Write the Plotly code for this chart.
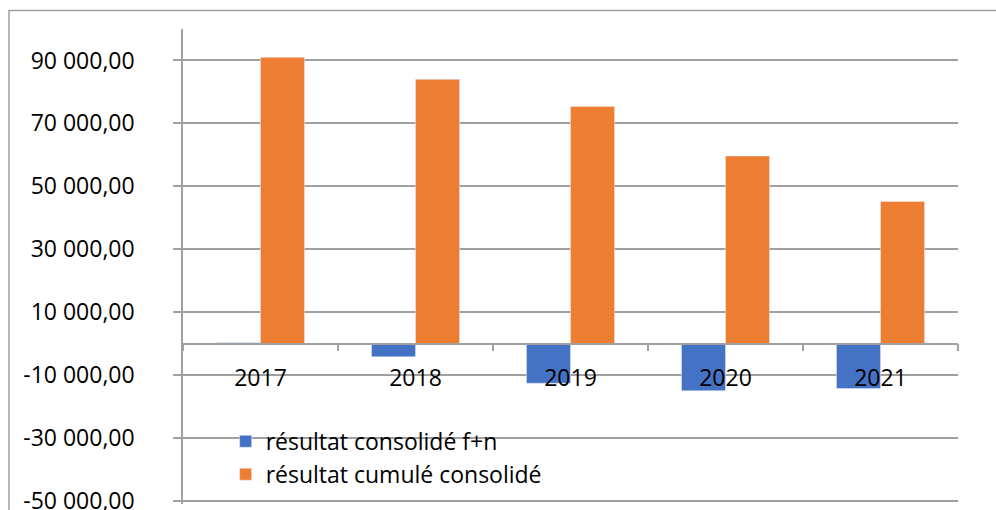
import plotly.graph_objects as go

years = ["2017", "2018", "2019", "2020", "2021"]
resultat_fn = [300, -4200, -12600, -15000, -14300]
resultat_cumule = [91000, 84000, 75400, 59600, 45200]
y_ticks = [-50000, -30000, -10000, 10000, 30000, 50000, 70000, 90000]
y_tick_labels = ["-50 000,00", "-30 000,00", "-10 000,00", "10 000,00",
                 "30 000,00", "50 000,00", "70 000,00", "90 000,00"]

FONT = "Open Sans"
GRID = "#a0a0a0"
Y_MIN, Y_MAX = -51000, 100000

fig = go.Figure()
fig.add_trace(go.Bar(x=years, y=resultat_fn, name="résultat consolidé f+n",
                     marker=dict(color="#4472C4")))
fig.add_trace(go.Bar(x=years, y=resultat_cumule, name="résultat cumulé consolidé",
                     marker=dict(color="#ED7D31")))

L, R, T, B = 183, 38, 28.5, 5.8
W, H = 996, 510
pw = W - L - R
ph = H - T - B

fig.update_layout(
    width=W, height=H,
    margin=dict(l=L, r=R, t=T, b=B, pad=0, autoexpand=False),
    paper_bgcolor="white", plot_bgcolor="white",
    barmode="group", bargap=0.432, bargroupgap=0,
    font=dict(family=FONT, size=23, color="black"),
    showlegend=True,
    legend=dict(x=0.055, y=(H - B - 458) / ph, xanchor="left", yanchor="middle",
                bgcolor="rgba(0,0,0,0)", font=dict(size=23, family=FONT),
                tracegroupgap=0, itemwidth=30),
    xaxis=dict(type="category", anchor="free", position=-Y_MIN / (Y_MAX - Y_MIN),
               showline=True, linecolor=GRID, linewidth=1.5, automargin=False,
               ticks="outside", tickson="boundaries", ticklen=7, tickcolor=GRID,
               tickwidth=1.5, showgrid=False, zeroline=False,
               ticklabelstandoff=14, tickfont=dict(size=23, family=FONT)),
    yaxis=dict(range=[Y_MIN, Y_MAX], tickvals=y_ticks, ticktext=y_tick_labels,
               showgrid=True, gridcolor=GRID, gridwidth=1.5, automargin=False,
               showline=True, linecolor=GRID, linewidth=1.5,
               ticks="outside", ticklen=8, tickcolor=GRID, tickwidth=1.5,
               zeroline=False, ticklabelstandoff=34, ticklabeloverflow="allow",
               tickfont=dict(size=23, family=FONT)),
)

# outer chart frame (cropped at right and bottom)
fig.add_shape(type="rect", xref="paper", yref="paper",
              x0=(9 - L) / pw, x1=(W + 20 - L) / pw,
              y0=-(B + 20) / ph, y1=1 + (T - 10) / ph,
              line=dict(color=GRID, width=1.5), layer="below")

fig.write_html("out.html", config={"displayModeBar": False},
               post_script="document.body.style.margin='0';document.body.style.overflow='hidden';")
